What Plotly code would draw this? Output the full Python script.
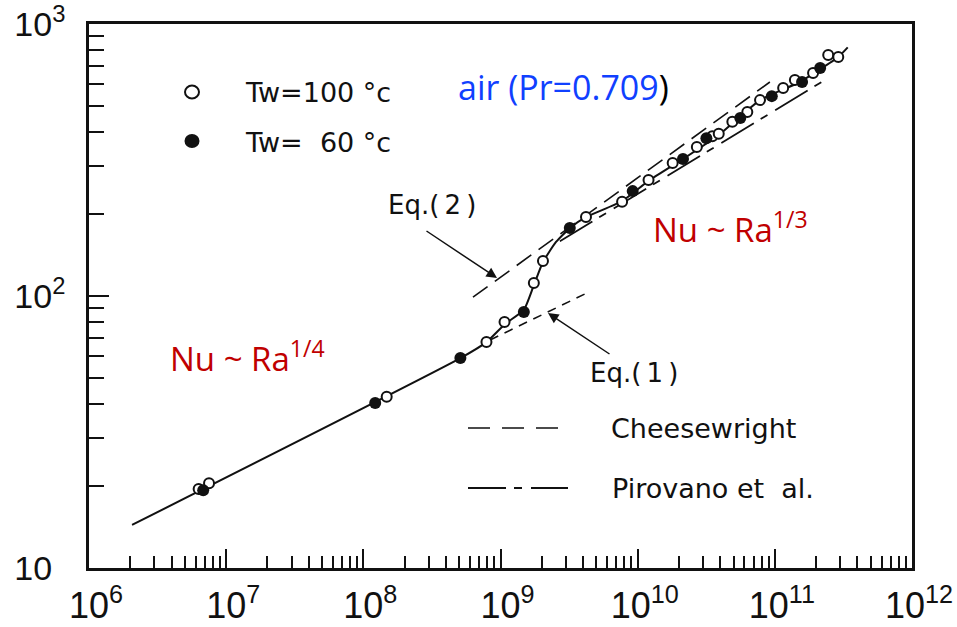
import plotly.graph_objects as go

# ---------------- data ----------------
# Measured points, Tw = 100 °C (open circles)
ra_100 = [6.3e6, 7.5e6, 1.48e8, 7.9e8, 1.07e9, 1.75e9, 2.04e9, 4.2e9, 7.7e9,
          1.2e10, 1.8e10, 2.7e10, 3.5e10, 3.9e10, 4.9e10, 6.3e10, 7.8e10,
          1.15e11, 1.4e11, 1.9e11, 2.45e11, 2.9e11]
nu_100 = [19.5, 20.5, 42.6, 67.8, 80.2, 111.7, 134.6, 195, 222,
          267, 308, 353, 387, 395, 437, 475, 525,
          582, 622, 661, 769, 756]

# Measured points, Tw = 60 °C (filled circles)
ra_60 = [6.8e6, 1.22e8, 5.1e8, 1.48e9, 3.2e9, 9.2e9, 2.14e10, 3.17e10,
         5.6e10, 9.5e10, 1.58e11, 2.14e11]
nu_60 = [19.3, 40.4, 59.2, 87.3, 178, 243, 319, 380,
         451, 543, 612, 689]

# Solid curve through the data
ra_fit = [2.06e6, 5.14e8, 7.94e8, 1.08e9, 1.48e9, 1.75e9, 2.04e9, 2.54e9,
          3.21e9, 4.19e9, 7.67e9, 1.2e10, 2.14e10, 3.9e10, 7.8e10, 1.52e11,
          2.9e11, 3.4e11]
nu_fit = [14.4, 59.2, 67.8, 78.9, 88.9, 109.6, 133.3, 158,
          178, 195, 223, 265, 319, 391, 525, 612,
          756, 820]

# Eq.(1) laminar correlation segment
ra_eq1 = [8.4e8, 4.27e9]
nu_eq1 = [68.9, 102.6]

# Eq.(2) turbulent correlation (Cheesewright)
ra_eq2 = [6.3e8, 9.2e10]
nu_eq2 = [99, 612]

# Pirovano et al. turbulent correlation
ra_pir = [2.71e9, 2.31e11]
nu_pir = [159, 622]

# Axis ticks
x_tickvals = [1e6, 1e7, 1e8, 1e9, 1e10, 1e11, 1e12]
x_ticktext = ["10<sup>6</sup>", "10<sup>7</sup>", "10<sup>8</sup>", "10<sup>9</sup>",
              "10<sup>10</sup>", "10<sup>11</sup>", "10<sup>12</sup>"]
y_tickvals = [10, 100, 1000]
y_ticktext = ["10<sup>\u2007</sup>", "10<sup>2</sup>", "10<sup>3</sup>"]

# ---------------- layout helpers ----------------
W, H = 957, 627
L, R, T, B = 89, 45, 24, 59
PW, PH = W - L - R, H - T - B


def px(x):
    return (x - L) / PW


def py(y):
    return (H - B - y) / PH


SCAN_FONT = "DejaVu Sans"
NEW_FONT = "Open Sans"
INK = "#111111"
CHEESE_DASH = "22px,12px"
PIRO_DASH = "38px,8px,8px,9px"

fig = go.Figure()

fig.add_trace(go.Scatter(x=ra_fit, y=nu_fit, mode="lines",
                         line=dict(color=INK, width=2, shape="spline", smoothing=0.5),
                         showlegend=False, hoverinfo="skip"))
fig.add_trace(go.Scatter(x=ra_eq1, y=nu_eq1, mode="lines",
                         line=dict(color=INK, width=1.6, dash="9px,7px"),
                         showlegend=False, hoverinfo="skip"))
fig.add_trace(go.Scatter(x=ra_eq2, y=nu_eq2, mode="lines",
                         line=dict(color=INK, width=1.6, dash="18px,9px"),
                         showlegend=False, hoverinfo="skip"))
fig.add_trace(go.Scatter(x=ra_pir, y=nu_pir, mode="lines",
                         line=dict(color=INK, width=1.8, dash=PIRO_DASH),
                         showlegend=False, hoverinfo="skip"))
fig.add_trace(go.Scatter(x=ra_100, y=nu_100, mode="markers", name="Tw=100 °C",
                         marker=dict(symbol="circle", size=10, color="white",
                                     line=dict(color=INK, width=2)),
                         showlegend=False))
fig.add_trace(go.Scatter(x=ra_60, y=nu_60, mode="markers", name="Tw=60 °C",
                         marker=dict(symbol="circle", size=12, color=INK,
                                     line=dict(color=INK, width=0)),
                         showlegend=False))

annotations = []


def label(text, x, y, family, size, color=INK):
    annotations.append(dict(text=text, x=px(x), y=py(y), xref="paper", yref="paper",
                            xanchor="left", yanchor="middle", showarrow=False,
                            font=dict(family=family, size=size, color=color)))


label("Tw=100 °c", 243, 92, SCAN_FONT, 27)
label("Tw=\u200760 °c", 243, 142, SCAN_FONT, 27)
label("<span style='color:#1040FF'>air (Pr=0.709</span>)", 456, 87, NEW_FONT, 34, "black")
label("Nu ~ Ra<sup>1/4</sup>", 168, 357, NEW_FONT, 33, "#C00000")
label("Nu ~ Ra<sup>1/3</sup>", 651, 227, NEW_FONT, 33, "#C00000")
label("Eq.(\u20092\u2009)", 386, 205, SCAN_FONT, 26)
label("Eq.(\u20091\u2009)", 588, 373, SCAN_FONT, 26)
label("Cheesewright", 609, 428, SCAN_FONT, 27)
label("Pirovano et\u00a0 al.", 610, 488, SCAN_FONT, 27)

# arrows pointing at the correlations
for head, tail in [((497, 278), (425, 230)), ((548, 313), (611, 355))]:
    annotations.append(dict(text="", x=px(head[0]), y=py(head[1]), xref="paper", yref="paper",
                            ax=tail[0] - head[0], ay=tail[1] - head[1],
                            showarrow=True, arrowhead=2, arrowsize=1.4, arrowwidth=1.5,
                            arrowcolor=INK, standoff=0))

shapes = [
    # legend line samples
    dict(type="line", xref="paper", yref="paper", x0=px(468), x1=px(568), y0=py(428), y1=py(428),
         line=dict(color=INK, width=1.6, dash=CHEESE_DASH)),
    dict(type="line", xref="paper", yref="paper", x0=px(468), x1=px(568), y0=py(488), y1=py(488),
         line=dict(color=INK, width=1.8, dash=PIRO_DASH)),
    # legend markers
    dict(type="circle", xref="paper", yref="paper", xsizemode="pixel", ysizemode="pixel",
         xanchor=px(192), yanchor=py(92), x0=-7, x1=7, y0=-6.5, y1=6.5,
         line=dict(color=INK, width=2), fillcolor="white"),
    dict(type="circle", xref="paper", yref="paper", xsizemode="pixel", ysizemode="pixel",
         xanchor=px(192), yanchor=py(141), x0=-7.5, x1=7.5, y0=-7, y1=7,
         line=dict(color=INK, width=0), fillcolor=INK),
]

fig.update_layout(
    width=W, height=H, margin=dict(l=L, r=R, t=T, b=B, autoexpand=False),
    paper_bgcolor="white", plot_bgcolor="white", showlegend=False,
    annotations=annotations, shapes=shapes,
    xaxis=dict(type="log", range=[6, 12], tickmode="array", tickvals=x_tickvals,
               ticktext=x_ticktext, ticks="inside", ticklen=19, tickwidth=2,
               tickcolor=INK, showline=True, linewidth=2.5, linecolor=INK, mirror=True,
               showgrid=False, zeroline=False, ticklabelstandoff=4, ticklabelshift=7,
               automargin=False, ticklabeloverflow="allow",
               tickfont=dict(family="Liberation Sans", size=36, color=INK),
               minor=dict(ticks="inside", ticklen=12, tickwidth=2, tickcolor=INK,
                          dtick="D1", showgrid=False)),
    yaxis=dict(type="log", range=[1, 3], tickmode="array", tickvals=y_tickvals,
               ticktext=y_ticktext, ticks="inside", ticklen=20, tickwidth=2,
               tickcolor=INK, showline=True, linewidth=2.5, linecolor=INK, mirror=True,
               showgrid=False, zeroline=False, ticklabelstandoff=14,
               automargin=False, ticklabeloverflow="allow",
               tickfont=dict(family="Liberation Sans", size=34, color=INK),
               minor=dict(ticks="inside", ticklen=15, tickwidth=2, tickcolor=INK,
                          dtick="D1", showgrid=False)),
)

fig.write_html("out.html")
